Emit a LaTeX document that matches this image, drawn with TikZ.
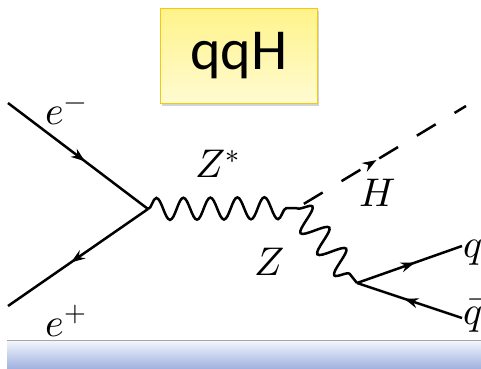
\documentclass[tikz,border=0pt]{standalone}
\usepackage{fontspec}
\usepackage{unicode-math}
\setmathfont{Latin Modern Math}
\newfontfamily\titlefont{Carlito}
\usetikzlibrary{decorations.pathmorphing,decorations.markings,arrows.meta,shadows}
\definecolor{boxtop}{HTML}{FFF38A}
\definecolor{boxbot}{HTML}{FFFBD2}
\definecolor{boxborder}{HTML}{F2C811}
\definecolor{bartop}{HTML}{F4F7FD}
\definecolor{barbot}{HTML}{A2B3DF}
\tikzset{
  fermion/.style={line width=2.5pt, postaction={decorate},
    decoration={markings, mark=at position 0.55 with {\arrow{Stealth[length=14pt,width=10pt]}}}},
  photon/.style={line width=2.5pt, decorate,
    decoration={snake, segment length=27pt, amplitude=11pt}},
  scalar/.style={line width=2.5pt, dash pattern=on 22pt off 22pt, dash phase=36pt, postaction={decorate},
    decoration={markings, mark=at position 0.47 with {\arrow{Stealth[length=14pt,width=10pt]}}}},
  lab/.style={font=\fontsize{40}{40}\selectfont, inner sep=0pt},
}
\begin{document}
\begin{tikzpicture}[x=1pt,y=-1pt]
\useasboundingbox (0,0) rectangle (481,368);
% title box
\node[draw=boxborder, line width=1.2pt, top color=boxtop, bottom color=boxbot,
      minimum width=157pt, minimum height=95pt, inner sep=0pt,
      drop shadow={shadow xshift=1.5pt, shadow yshift=-2pt, opacity=0.35},
      font=\titlefont\fontsize{58}{58}\selectfont] (title) at (239,56) {qqH};
% vertices and ends
\coordinate (em) at (8,103);
\coordinate (ep) at (8,306);
\coordinate (v1) at (148,209);
\coordinate (v2) at (297,208);
\coordinate (v3) at (357,283);
\coordinate (hend) at (466,106);
\coordinate (qend) at (462,246);
\coordinate (qbend) at (462,318);
% lines
\draw[fermion] (em) -- (v1);
\draw[fermion] (v1) -- (ep);
\draw[photon] (v1) -- (v2);
\draw[scalar] (v2) -- (hend);
\draw[photon, decoration={amplitude=13pt}] (v2) -- (v3);
\draw[fermion] (v3) -- (qend);
\draw[fermion] (qbend) -- (v3);
% labels
\node[lab] (lem) at (66,114) {$e^{-}$};
\node[lab] (lep) at (66,321) {$e^{+}$};
\node[lab] (lzs) at (218,164) {$Z^{*}$};
\node[lab] (lh) at (378,193) {$H$};
\node[lab] (lz) at (270,262) {$Z$};
\node[lab] (lq) at (473,253) {$q$};
\node[lab] (lqb) at (473,316) {$\bar q$};
% bottom bar
\shade[top color=bartop, bottom color=barbot] (7,340) rectangle (481,368);
\draw[gray!70, line width=0.8pt] (7,340) -- (481,340);
\end{tikzpicture}
\end{document}
